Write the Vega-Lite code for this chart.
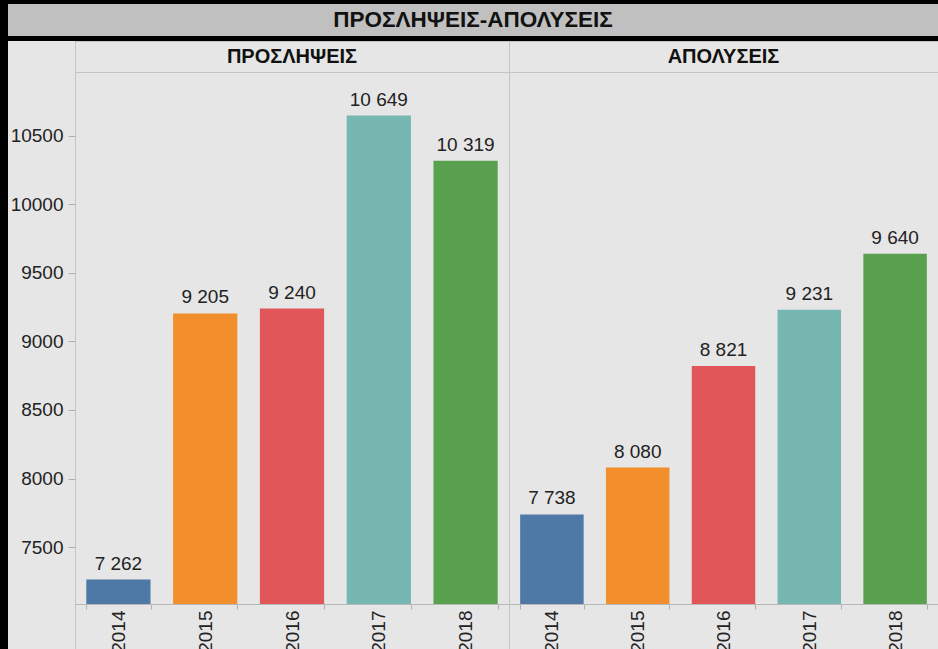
{
  "$schema": "https://vega.github.io/schema/vega-lite/v6.json",
  "background": "#000000",
  "padding": {"left": 8, "top": 4, "right": 0, "bottom": 0},
  "config": {
    "view": {"stroke": null},
    "locale": {"number": {"decimal": ",", "thousands": " ", "grouping": [3], "currency": ["", " €"]}},
    "axis": {"labelFont": "Liberation Sans", "titleFont": "Liberation Sans"},
    "text": {"font": "Liberation Sans"}
  },
  "datasets": {
    "rows": [
      {"type": "ΠΡΟΣΛΗΨΕΙΣ", "year": "2014", "value": 7262},
      {"type": "ΠΡΟΣΛΗΨΕΙΣ", "year": "2015", "value": 9205},
      {"type": "ΠΡΟΣΛΗΨΕΙΣ", "year": "2016", "value": 9240},
      {"type": "ΠΡΟΣΛΗΨΕΙΣ", "year": "2017", "value": 10649},
      {"type": "ΠΡΟΣΛΗΨΕΙΣ", "year": "2018", "value": 10319},
      {"type": "ΑΠΟΛΥΣΕΙΣ", "year": "2014", "value": 7738},
      {"type": "ΑΠΟΛΥΣΕΙΣ", "year": "2015", "value": 8080},
      {"type": "ΑΠΟΛΥΣΕΙΣ", "year": "2016", "value": 8821},
      {"type": "ΑΠΟΛΥΣΕΙΣ", "year": "2017", "value": 9231},
      {"type": "ΑΠΟΛΥΣΕΙΣ", "year": "2018", "value": 9640}
    ]
  },
  "spacing": 4,
  "vconcat": [
    {
      "width": 930,
      "height": 32,
      "view": {"fill": "#c0c0c0", "stroke": null},
      "data": {"values": [{"t": "ΠΡΟΣΛΗΨΕΙΣ-ΑΠΟΛΥΣΕΙΣ"}]},
      "mark": {"type": "text", "fontSize": 22.5, "fontWeight": "bold", "color": "#111111", "baseline": "middle"},
      "encoding": {"text": {"field": "t"}}
    },
    {
      "bounds": "flush",
      "spacing": 0,
      "columns": 3,
      "concat": [
        {
          "width": 67,
          "height": 31,
          "view": {"fill": "#e6e6e6", "stroke": null},
          "data": {"values": [{"t": ""}]},
          "mark": {"type": "text"},
          "encoding": {"text": {"field": "t"}}
        },
        {
          "width": 434,
          "height": 31,
          "view": {"fill": "#e6e6e6", "stroke": "#c4c4c4"},
          "data": {"values": [{"h": "ΠΡΟΣΛΗΨΕΙΣ"}]},
          "mark": {"type": "text", "fontSize": 20, "fontWeight": "bold", "color": "#111111", "baseline": "middle"},
          "encoding": {"text": {"field": "h"}}
        },
        {
          "width": 429,
          "height": 31,
          "view": {"fill": "#e6e6e6", "stroke": "#c4c4c4"},
          "data": {"values": [{"h": "ΑΠΟΛΥΣΕΙΣ"}]},
          "mark": {"type": "text", "fontSize": 20, "fontWeight": "bold", "color": "#111111", "baseline": "middle"},
          "encoding": {"text": {"field": "h"}}
        },
        {
          "width": 67,
          "height": 578,
          "view": {"fill": "#e6e6e6", "stroke": null},
          "data": {"values": [{"t": ""}]},
          "mark": {"type": "text"},
          "encoding": {"text": {"field": "t"}}
        },
        {
          "width": 434,
          "height": 578,
          "view": {"fill": "#e6e6e6", "stroke": "#c4c4c4"},
          "data": {"name": "rows"},
          "transform": [{"filter": "datum.type === 'ΠΡΟΣΛΗΨΕΙΣ'"}],
          "encoding": {
            "x": {
              "field": "year", "type": "ordinal",
              "scale": {"paddingInner": 0.26, "paddingOuter": 0.13},
              "axis": {"orient": "bottom", "offset": -46, "title": null, "labelAngle": 270, "labelFontSize": 19, "labelColor": "#222222", "tickBand": "extent", "tickSize": 5, "tickColor": "#b0b0b0", "domainColor": "#b8b8b8", "labelPadding": 1}
            },
            "y": {
              "field": "value", "type": "quantitative",
              "scale": {"domain": [7084, 10967], "range": [532, 0], "nice": false, "zero": false},
              "axis": {"orient": "left", "title": null, "values": [7500, 8000, 8500, 9000, 9500, 10000, 10500], "format": "d", "labelFontSize": 19, "labelColor": "#222222", "tickSize": 7, "tickColor": "#b0b0b0", "domain": false, "grid": false, "labelPadding": 5}
            }
          },
          "layer": [
            {
              "mark": {"type": "bar"},
              "encoding": {
                "y2": {"datum": 7084},
                "color": {"field": "year", "type": "nominal", "scale": {"domain": ["2014", "2015", "2016", "2017", "2018"], "range": ["#4e79a7", "#f28e2b", "#e15759", "#76b7b2", "#59a14f"]}, "legend": null}
              }
            },
            {
              "mark": {"type": "text", "baseline": "bottom", "dy": -6, "fontSize": 19, "color": "#222222"},
              "encoding": {"text": {"field": "value", "type": "quantitative", "format": ",d"}}
            }
          ]
        },
        {
          "width": 429,
          "height": 578,
          "view": {"fill": "#e6e6e6", "stroke": "#c4c4c4"},
          "data": {"name": "rows"},
          "transform": [{"filter": "datum.type === 'ΑΠΟΛΥΣΕΙΣ'"}],
          "encoding": {
            "x": {
              "field": "year", "type": "ordinal",
              "scale": {"paddingInner": 0.26, "paddingOuter": 0.13},
              "axis": {"orient": "bottom", "offset": -46, "title": null, "labelAngle": 270, "labelFontSize": 19, "labelColor": "#222222", "tickBand": "extent", "tickSize": 5, "tickColor": "#b0b0b0", "domainColor": "#b8b8b8", "labelPadding": 1}
            },
            "y": {
              "field": "value", "type": "quantitative",
              "scale": {"domain": [7084, 10967], "range": [532, 0], "nice": false, "zero": false},
              "axis": null
            }
          },
          "layer": [
            {
              "mark": {"type": "bar"},
              "encoding": {
                "y2": {"datum": 7084},
                "color": {"field": "year", "type": "nominal", "scale": {"domain": ["2014", "2015", "2016", "2017", "2018"], "range": ["#4e79a7", "#f28e2b", "#e15759", "#76b7b2", "#59a14f"]}, "legend": null}
              }
            },
            {
              "mark": {"type": "text", "baseline": "bottom", "dy": -6, "fontSize": 19, "color": "#222222"},
              "encoding": {"text": {"field": "value", "type": "quantitative", "format": ",d"}}
            }
          ]
        }
      ]
    }
  ]
}
